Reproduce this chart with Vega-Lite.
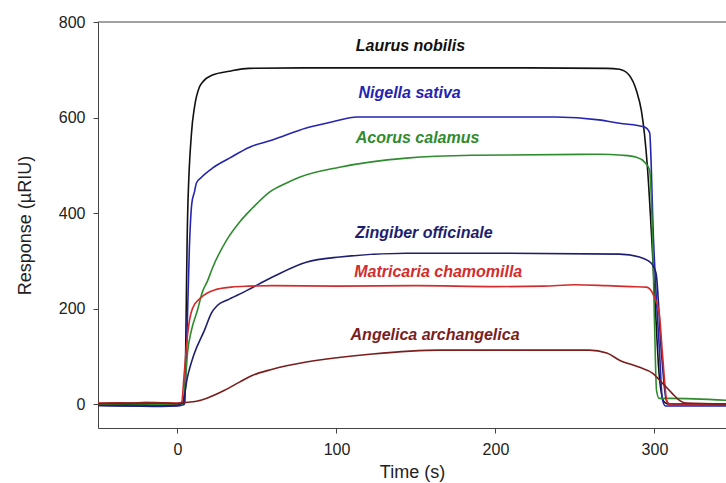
{
  "$schema": "https://vega.github.io/schema/vega-lite/v6.json",
  "width": 628,
  "height": 406,
  "autosize": "none",
  "padding": {"left": 98, "top": 22, "right": 0, "bottom": 55},
  "background": "white",
  "config": {
    "view": {"stroke": null},
    "axis": {
      "domainColor": "#444444",
      "tickColor": "#444444",
      "tickSize": 5,
      "grid": false,
      "labelFont": "Liberation Sans",
      "labelFontSize": 16,
      "labelColor": "#222222",
      "titleFont": "Liberation Sans",
      "titleFontSize": 18,
      "titleFontWeight": "normal",
      "titleColor": "#222222"
    }
  },
  "datasets": {
    "curves": [
      {"s":"L","t":-50,"r":-2},{"s":"L","t":-30,"r":-1},{"s":"L","t":-10,"r":-2},{"s":"L","t":0,"r":-1},{"s":"L","t":3,"r":0},{"s":"L","t":4.4,"r":4},{"s":"L","t":6.3,"r":385},{"s":"L","t":8.8,"r":567},{"s":"L","t":10.7,"r":622},{"s":"L","t":13.8,"r":664},{"s":"L","t":15.7,"r":674},{"s":"L","t":22,"r":689},{"s":"L","t":32.7,"r":697},{"s":"L","t":45,"r":703},{"s":"L","t":80,"r":704},{"s":"L","t":150,"r":704},{"s":"L","t":220,"r":704},{"s":"L","t":270,"r":703},{"s":"L","t":278,"r":701},{"s":"L","t":284,"r":689},{"s":"L","t":288.7,"r":656},{"s":"L","t":291.8,"r":614},{"s":"L","t":293.7,"r":566},{"s":"L","t":295.6,"r":495},{"s":"L","t":298,"r":364},{"s":"L","t":300.6,"r":200},{"s":"L","t":303,"r":60},{"s":"L","t":306,"r":5},{"s":"L","t":309,"r":0},{"s":"L","t":345,"r":0},

      {"s":"N","t":-50,"r":-3},{"s":"N","t":-30,"r":-4},{"s":"N","t":-10,"r":-5},{"s":"N","t":0,"r":-4},{"s":"N","t":3,"r":-2},{"s":"N","t":4.4,"r":0},{"s":"N","t":6,"r":150},{"s":"N","t":7.5,"r":330},{"s":"N","t":9,"r":420},{"s":"N","t":10.7,"r":445},{"s":"N","t":11.9,"r":463},{"s":"N","t":15.1,"r":475},{"s":"N","t":22,"r":494},{"s":"N","t":32.7,"r":515},{"s":"N","t":45.3,"r":538},{"s":"N","t":59.7,"r":553},{"s":"N","t":81,"r":578},{"s":"N","t":97.5,"r":591},{"s":"N","t":113,"r":601},{"s":"N","t":160,"r":601},{"s":"N","t":238,"r":601},{"s":"N","t":265,"r":595},{"s":"N","t":278,"r":588},{"s":"N","t":293.7,"r":580},{"s":"N","t":297,"r":568},{"s":"N","t":298,"r":496},{"s":"N","t":299,"r":380},{"s":"N","t":300.6,"r":260},{"s":"N","t":303,"r":120},{"s":"N","t":305,"r":10},{"s":"N","t":307,"r":-4},{"s":"N","t":320,"r":-4},{"s":"N","t":345,"r":-4},

      {"s":"A","t":-50,"r":0},{"s":"A","t":-30,"r":1},{"s":"A","t":-10,"r":0},{"s":"A","t":0,"r":0},{"s":"A","t":3,"r":0},{"s":"A","t":5,"r":50},{"s":"A","t":6.3,"r":107},{"s":"A","t":8.8,"r":155},{"s":"A","t":12.6,"r":197},{"s":"A","t":15.7,"r":235},{"s":"A","t":18.9,"r":258},{"s":"A","t":22,"r":285},{"s":"A","t":30.8,"r":343},{"s":"A","t":39,"r":381},{"s":"A","t":47,"r":410},{"s":"A","t":57.9,"r":444},{"s":"A","t":68.6,"r":463},{"s":"A","t":76.7,"r":475},{"s":"A","t":101.9,"r":496},{"s":"A","t":144,"r":515},{"s":"A","t":185.5,"r":521},{"s":"A","t":265,"r":523},{"s":"A","t":280,"r":521},{"s":"A","t":288.7,"r":517},{"s":"A","t":293.7,"r":507},{"s":"A","t":296.9,"r":490},{"s":"A","t":298.7,"r":364},{"s":"A","t":300,"r":176},{"s":"A","t":301.3,"r":29},{"s":"A","t":303,"r":12},{"s":"A","t":310,"r":12},{"s":"A","t":345,"r":8},

      {"s":"Z","t":-50,"r":-3},{"s":"Z","t":-30,"r":-4},{"s":"Z","t":-10,"r":-4},{"s":"Z","t":0,"r":-3},{"s":"Z","t":1.3,"r":0},{"s":"Z","t":3.1,"r":2},{"s":"Z","t":6.3,"r":57},{"s":"Z","t":10.7,"r":107},{"s":"Z","t":17,"r":155},{"s":"Z","t":21.4,"r":191},{"s":"Z","t":25.2,"r":207},{"s":"Z","t":31.4,"r":218},{"s":"Z","t":42,"r":235},{"s":"Z","t":59.7,"r":266},{"s":"Z","t":81,"r":297},{"s":"Z","t":102,"r":308},{"s":"Z","t":144,"r":316},{"s":"Z","t":200,"r":316},{"s":"Z","t":278,"r":314},{"s":"Z","t":290.6,"r":308},{"s":"Z","t":298,"r":295},{"s":"Z","t":301,"r":274},{"s":"Z","t":304.4,"r":107},{"s":"Z","t":307.5,"r":8},{"s":"Z","t":310.7,"r":-2},{"s":"Z","t":345,"r":-2},

      {"s":"M","t":-50,"r":2},{"s":"M","t":-40,"r":3},{"s":"M","t":-30,"r":2},{"s":"M","t":-20,"r":4},{"s":"M","t":-10,"r":3},{"s":"M","t":0,"r":2},{"s":"M","t":2.5,"r":4},{"s":"M","t":4.4,"r":71},{"s":"M","t":6.3,"r":145},{"s":"M","t":9.4,"r":200},{"s":"M","t":15.1,"r":224},{"s":"M","t":23.3,"r":239},{"s":"M","t":34,"r":245},{"s":"M","t":45,"r":247},{"s":"M","t":60,"r":248},{"s":"M","t":100,"r":247},{"s":"M","t":150,"r":248},{"s":"M","t":200,"r":246},{"s":"M","t":230,"r":247},{"s":"M","t":250,"r":250},{"s":"M","t":270,"r":248},{"s":"M","t":285,"r":246},{"s":"M","t":295,"r":245},{"s":"M","t":300,"r":224},{"s":"M","t":303,"r":191},{"s":"M","t":305,"r":107},{"s":"M","t":308,"r":4},{"s":"M","t":310.7,"r":-2},{"s":"M","t":345,"r":-1},

      {"s":"G","t":-50,"r":1},{"s":"G","t":-30,"r":2},{"s":"G","t":-10,"r":2},{"s":"G","t":0,"r":1},{"s":"G","t":1.3,"r":2},{"s":"G","t":12,"r":6},{"s":"G","t":18.9,"r":13},{"s":"G","t":29.6,"r":29},{"s":"G","t":39,"r":46},{"s":"G","t":47,"r":60},{"s":"G","t":59.7,"r":73},{"s":"G","t":81,"r":88},{"s":"G","t":122.6,"r":105},{"s":"G","t":164.8,"r":113},{"s":"G","t":207,"r":113},{"s":"G","t":259,"r":113},{"s":"G","t":270,"r":107},{"s":"G","t":278,"r":92},{"s":"G","t":290.6,"r":77},{"s":"G","t":298.7,"r":65},{"s":"G","t":305,"r":44},{"s":"G","t":311,"r":23},{"s":"G","t":315.7,"r":8},{"s":"G","t":320,"r":2},{"s":"G","t":345,"r":0}
    ],
    "labels": [
      {"s":"L","t":146.5,"r":750,"label":"Laurus nobilis"},
      {"s":"N","t":146,"r":651,"label":"Nigella sativa"},
      {"s":"A","t":151,"r":557,"label":"Acorus calamus"},
      {"s":"Z","t":155,"r":358,"label":"Zingiber officinale"},
      {"s":"M","t":164,"r":276,"label":"Matricaria chamomilla"},
      {"s":"G","t":162,"r":144,"label":"Angelica archangelica"}
    ],
    "top": [{"v": 800}]
  },
  "layer": [
    {
      "data": {"name": "top"},
      "mark": {"type": "rule", "color": "#444444", "strokeWidth": 1},
      "encoding": {
        "y": {"field": "v", "type": "quantitative", "scale": {"domain": [-50, 800], "nice": false, "zero": false}}
      }
    },
    {
      "data": {"name": "curves"},
      "mark": {"type": "line", "strokeWidth": 1.6, "clip": true, "interpolate": "monotone"},
      "encoding": {
        "x": {"field": "t", "type": "quantitative", "title": "Time (s)",
              "scale": {"domain": [-50, 345], "nice": false, "zero": false},
              "axis": {"values": [0, 100, 200, 300], "labelPadding": 8, "titlePadding": 6}},
        "y": {"field": "r", "type": "quantitative", "title": "Response (µRIU)",
              "scale": {"domain": [-50, 800], "nice": false, "zero": false},
              "axis": {"values": [0, 200, 400, 600, 800], "labelPadding": 8, "titlePadding": 24}},
        "color": {"field": "s", "type": "nominal", "legend": null,
                  "scale": {"domain": ["L","N","A","Z","M","G"], "range": ["#111111","#2424b0","#2e8b2e","#1e1e70","#d42c2c","#7a1e1e"]}},
        "order": {"field": "t", "type": "quantitative"}
      }
    },
    {
      "data": {"name": "labels"},
      "mark": {"type": "text", "font": "Liberation Sans", "fontStyle": "italic", "fontWeight": "bold", "fontSize": 16, "align": "center", "baseline": "middle"},
      "encoding": {
        "x": {"field": "t", "type": "quantitative", "scale": {"domain": [-50, 345], "nice": false, "zero": false}},
        "y": {"field": "r", "type": "quantitative", "scale": {"domain": [-50, 800], "nice": false, "zero": false}},
        "text": {"field": "label"},
        "color": {"field": "s", "type": "nominal", "legend": null,
                  "scale": {"domain": ["L","N","A","Z","M","G"], "range": ["#111111","#2424b0","#2e8b2e","#1e1e70","#d42c2c","#7a1e1e"]}}
      }
    }
  ]
}
